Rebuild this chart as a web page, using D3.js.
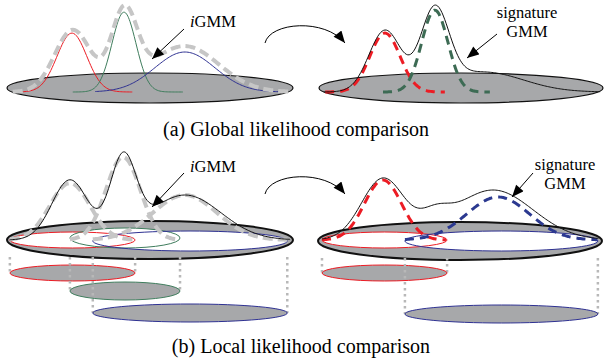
<!DOCTYPE html>
<html><head><meta charset="utf-8">
<script src="https://cdn.jsdelivr.net/npm/d3@7"></script>
<style>body{margin:0;background:#fff}svg{display:block}</style></head>
<body>
<script>
// ---------- DATA (x in % of disk width, height in units above disk) ----------
// (a) global: iGMM components (left) and signature GMM components (right)
const aLeftNames  = ["red", "green", "blue"];
const aLeftMeans  = [22.7, 40.9, 62.2];
const aLeftSds    = [5.2, 4.2, 10.5];
const aLeftPeaks  = [59, 80, 40];
const aLeftFrom   = [3.8, 23, 30.8];
const aLeftTo     = [44, 61.5, 97.2];
const aLeftEnvMeans = [23, 41, 62];
const aLeftEnvSds   = [6.3, 4.5, 12];
const aLeftEnvPeaks = [62, 76, 46];

const aRightNames = ["red", "green"];
const aRightMeans = [23.5, 41];
const aRightSds   = [5.3, 4.6];
const aRightPeaks = [59, 82];
const aRightFrom  = [2.5, 22.8];
const aRightTo    = [44.6, 60.4];
const aRightEnvMeans = [23.5, 41, 58];
const aRightEnvSds   = [5.6, 4.9, 14];
const aRightEnvPeaks = [61, 77, 20];

// (b) local
const bLeftNames  = ["red", "green", "blue"];
const bLeftMeans  = [22, 40.6, 62.2];
const bLeftSds    = [7, 6, 11.2];
const bLeftPeaks  = [57, 83, 45];
const bLeftFrom   = [1, 22, 30];
const bLeftTo     = [44.8, 60.5, 98];
const bLeftEnvMeans = [22, 40.6, 62.2];
const bLeftEnvSds   = [6.3, 4.5, 12.6];
const bLeftEnvPeaks = [60, 77, 45];

const bRightNames = ["red", "blue"];
const bRightMeans = [22.8, 63.2];
const bRightSds   = [6.5, 11];
const bRightPeaks = [60, 43];
const bRightFrom  = [1.4, 30.5];
const bRightTo    = [45.3, 98.2];
const bRightEnvMeans = [22.8, 41, 61.4];
const bRightEnvSds   = [7.5, 5, 14];
const bRightEnvPeaks = [61, 15, 50];

const labels = {iGMM: "GMM", sig1: "signature", sig2: "GMM"};
const captions = ["(a) Global likelihood comparison", "(b) Local likelihood comparison"];

// ---------- LAYOUT / STYLE ----------
const W = 605, H = 363;
const colors = {red: "#ed1c24", green: "#3f7d5d", blue: "#2e3192"};
const dashColors = {red: "#ec1c24", green: "#3d6b54", blue: "#2b3990"};
const diskFill = "#a7a8aa";
const panels = {
  aL: {x0: 7, x1: 293, base: 92, disk: {cx: 150, cy: 88, rx: 143, ry: 15}},
  aR: {x0: 318, x1: 603, base: 92, disk: {cx: 461, cy: 88, rx: 142, ry: 15}},
  bL: {x0: 7, x1: 293, base: 240, disk: {cx: 150, cy: 240, rx: 143, ry: 19},
       inner: {cy: [240, 238, 241], ry: [8, 10, 10]}, lower: {cy: [273, 291, 313], ry: [8, 9, 9]}},
  bR: {x0: 318, x1: 603, base: 240, disk: {cx: 460, cy: 241, rx: 142, ry: 19},
       inner: {cy: [240, 241], ry: [8, 10]}, lower: {cy: [273, 314], ry: [8, 9]}}
};
const serif = "'Liberation Serif','Times New Roman',Times,serif";

const svg = d3.select("body").append("svg").attr("width", W).attr("height", H)
  .style("font-family", serif);

const defs = svg.append("defs");
defs.append("marker").attr("id", "ah").attr("viewBox", "0 0 12 10")
  .attr("refX", 12).attr("refY", 5).attr("markerWidth", 13).attr("markerHeight", 10)
  .attr("markerUnits", "userSpaceOnUse").attr("orient", "auto")
  .append("path").attr("d", "M0,0L12,5L0,10z").attr("fill", "#000");

function scales(p) {
  return {x: d3.scaleLinear([0, 100], [p.x0, p.x1]), y: d3.scaleLinear([0, 100], [p.base, p.base - 100])};
}
function mix(means, sds, peaks, x) {
  let s = 0;
  for (let i = 0; i < means.length; i++) s += peaks[i] * Math.exp(-0.5 * ((x - means[i]) / sds[i]) ** 2);
  return s;
}
function curve(p, means, sds, peaks, from, to) {
  const s = scales(p);
  const pts = d3.range(from, to + 0.0001, 0.5).map(x => [x, mix(means, sds, peaks, x)]);
  return d3.line().x(d => s.x(d[0])).y(d => s.y(d[1])).curve(d3.curveBasis)(pts);
}
function disk(p, sw) {
  svg.append("ellipse").attr("cx", p.disk.cx).attr("cy", p.disk.cy).attr("rx", p.disk.rx).attr("ry", p.disk.ry)
    .attr("fill", diskFill).attr("stroke", "#111").attr("stroke-width", sw);
}
function comps(p, names, means, sds, peaks, from, to, style) {
  names.forEach((n, i) => {
    svg.append("path").attr("d", curve(p, [means[i]], [sds[i]], [peaks[i]], from[i], to[i]))
      .attr("fill", "none").attr("stroke", style === "thin" ? colors[n] : dashColors[n])
      .attr("stroke-width", style === "thin" ? 1 : 3)
      .attr("stroke-dasharray", style === "thin" ? null : "9,6");
  });
}
function envelope(p, means, sds, peaks, from, to, kind) {
  const path = svg.append("path").attr("d", curve(p, means, sds, peaks, from, to)).attr("fill", "none");
  if (kind === "grey") path.attr("stroke", "#c6c6c6").attr("stroke-width", 4).attr("stroke-dasharray", "10,5");
  else path.attr("stroke", "#111").attr("stroke-width", 1);
}
function greyComps(p, means, sds, peaks, from, to) {
  means.forEach((m, i) => {
    svg.append("path").attr("d", curve(p, [m], [sds[i]], [peaks[i]], from[i], to[i]))
      .attr("fill", "none").attr("stroke", "#c6c6c6").attr("stroke-width", 4).attr("stroke-dasharray", "10,5");
  });
}
function footprints(p, names, from, to) {
  const s = scales(p);
  const L = p.inner, Lo = p.lower;
  const dotTop = p.disk.cy + p.disk.ry - 2;
  names.forEach((n, i) => {
    svg.append("ellipse").attr("cx", (s.x(from[i]) + s.x(to[i])) / 2).attr("cy", L.cy[i])
      .attr("rx", (s.x(to[i]) - s.x(from[i])) / 2).attr("ry", L.ry[i]).attr("fill", "#fff");
  });
  names.forEach((n, i) => {
    svg.append("ellipse").attr("cx", (s.x(from[i]) + s.x(to[i])) / 2).attr("cy", L.cy[i])
      .attr("rx", (s.x(to[i]) - s.x(from[i])) / 2).attr("ry", L.ry[i]).attr("fill", "none")
      .attr("stroke", colors[n]).attr("stroke-width", 1);
  });
  names.forEach((n, i) => {
    [from[i], to[i]].forEach(v => {
      svg.append("line").attr("x1", s.x(v)).attr("x2", s.x(v)).attr("y1", dotTop).attr("y2", Lo.cy[i])
        .attr("stroke", "#b8b8b8").attr("stroke-width", 2.5).attr("stroke-dasharray", "2.5,3.5");
    });
    svg.append("ellipse").attr("cx", (s.x(from[i]) + s.x(to[i])) / 2).attr("cy", Lo.cy[i])
      .attr("rx", (s.x(to[i]) - s.x(from[i])) / 2).attr("ry", Lo.ry[i]).attr("fill", diskFill)
      .attr("stroke", colors[n]).attr("stroke-width", 1);
  });
}
function arrow(x1, y1, x2, y2) {
  svg.append("line").attr("x1", x1).attr("y1", y1).attr("x2", x2).attr("y2", y2)
    .attr("stroke", "#000").attr("stroke-width", 1).attr("marker-end", "url(#ah)");
}
function curvedArrow(y) {
  svg.append("path").attr("d", `M265,${y} C270,${y - 21} 325,${y - 25} 345,${y}`)
    .attr("fill", "none").attr("stroke", "#000").attr("stroke-width", 1).attr("marker-end", "url(#ah)");
}
function iLabel(x, y) {
  const t = svg.append("text").attr("x", x).attr("y", y).attr("font-size", 16.5);
  t.append("tspan").attr("font-style", "italic").text("i");
  t.append("tspan").text(labels.iGMM);
}
function sigLabel(x, y) {
  svg.append("text").attr("x", x).attr("y", y).attr("text-anchor", "middle").attr("font-size", 16.5).text(labels.sig1);
  svg.append("text").attr("x", x).attr("y", y + 19).attr("text-anchor", "middle").attr("font-size", 16.5).text(labels.sig2);
}

// ----- (a) left -----
disk(panels.aL, 1.2);
comps(panels.aL, aLeftNames, aLeftMeans, aLeftSds, aLeftPeaks, aLeftFrom, aLeftTo, "thin");
envelope(panels.aL, aLeftEnvMeans, aLeftEnvSds, aLeftEnvPeaks, 2, 99, "grey");
arrow(184, 29, 152, 59);
iLabel(190, 27);
// ----- (a) right -----
disk(panels.aR, 1.2);
comps(panels.aR, aRightNames, aRightMeans, aRightSds, aRightPeaks, aRightFrom, aRightTo, "dash");
envelope(panels.aR, aRightEnvMeans, aRightEnvSds, aRightEnvPeaks, 2, 99, "black");
arrow(497, 34, 467, 58);
sigLabel(527, 18);
curvedArrow(43);

// ----- (b) left -----
disk(panels.bL, 2);
footprints(panels.bL, bLeftNames, bLeftFrom, bLeftTo);
greyComps(panels.bL, bLeftMeans, bLeftSds, bLeftPeaks, bLeftFrom, bLeftTo);
envelope(panels.bL, bLeftEnvMeans, bLeftEnvSds, bLeftEnvPeaks, 1, 99, "black");
arrow(184, 173, 152, 207);
iLabel(190, 172);
// ----- (b) right -----
disk(panels.bR, 2);
footprints(panels.bR, bRightNames, bRightFrom, bRightTo);
comps(panels.bR, bRightNames, bRightMeans, bRightSds, bRightPeaks, bRightFrom, bRightTo, "dash");
envelope(panels.bR, bRightEnvMeans, bRightEnvSds, bRightEnvPeaks, 1.4, 98.5, "black");
arrow(533, 173, 512, 197);
sigLabel(565, 170);
curvedArrow(194);

// captions
svg.append("text").attr("x", 296).attr("y", 136).attr("text-anchor", "middle").attr("font-size", 20).text(captions[0]);
svg.append("text").attr("x", 301).attr("y", 353).attr("text-anchor", "middle").attr("font-size", 20).text(captions[1]);
</script>
</body></html>
